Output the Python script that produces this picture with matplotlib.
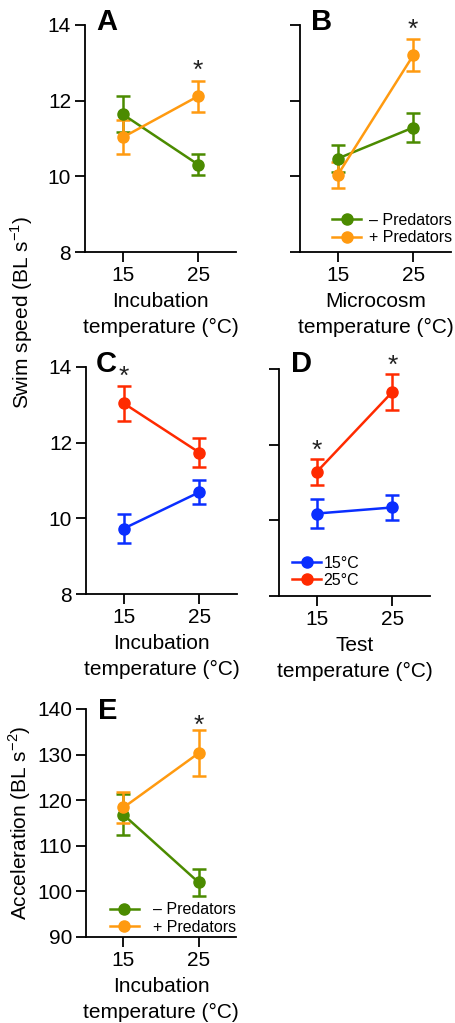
import numpy as np
import matplotlib
matplotlib.use("Agg")
import matplotlib.pyplot as plt
from matplotlib.lines import Line2D

plt.rcParams['font.family'] = ['Liberation Sans', 'DejaVu Sans']
plt.rcParams['mathtext.fontset'] = 'custom'
plt.rcParams['mathtext.rm'] = 'Liberation Sans'

temps = [15, 25]

# A: swim speed vs incubation temperature
a_minus = [11.64, 10.31]
a_minus_err = [0.48, 0.27]
a_plus = [11.03, 12.12]
a_plus_err = [0.45, 0.41]

# B: swim speed vs microcosm temperature
b_minus = [10.47, 11.29]
b_minus_err = [0.35, 0.39]
b_plus = [10.04, 13.20]
b_plus_err = [0.35, 0.42]

# C: swim speed vs incubation temperature, by test temperature
c_15 = [9.73, 10.69]
c_15_err = [0.39, 0.32]
c_25 = [13.04, 11.74]
c_25_err = [0.47, 0.39]

# D: swim speed vs test temperature, by incubation temperature
d_15 = [10.18, 10.34]
d_15_err = [0.39, 0.32]
d_25 = [11.28, 13.39]
d_25_err = [0.34, 0.47]

# E: acceleration vs incubation temperature
e_minus = [116.8, 102.0]
e_minus_err = [4.5, 3.0]
e_plus = [118.4, 130.3]
e_plus_err = [3.5, 5.0]

green = '#4B8B00'
orange = '#FF9A10'
red = '#FF2A00'
blue = '#0A2EFF'

W, H = 456, 1023
fig = plt.figure(figsize=(W / 100, H / 100), dpi=100)
FS = 15


def make_ax(left, top, right, bottom):
    return fig.add_axes([left / W, 1 - bottom / H, (right - left) / W, (bottom - top) / H])


def style(ax, ylim, yticks, show_ylabels=True):
    ax.set_xlim(10, 30)
    ax.set_ylim(*ylim)
    ax.set_xticks(temps)
    ax.set_yticks(yticks)
    if not show_ylabels:
        ax.set_yticklabels([])
    for s in ['top', 'right']:
        ax.spines[s].set_visible(False)
    for s in ['left', 'bottom']:
        ax.spines[s].set_linewidth(1.3)
    ax.tick_params(direction='out', length=7, width=1.3, labelsize=FS, pad=3)


def series(ax, y, err, color):
    ax.errorbar(temps, y, yerr=err, color=color, marker='o', markersize=8,
                linewidth=1.8, elinewidth=1.8, capsize=5, capthick=1.8)


def legend(ax, colors, labels, **kw):
    handles = [Line2D([], [], color=c, marker='o', markersize=8, linewidth=1.8) for c in colors]
    ax.legend(handles, labels, frameon=False, fontsize=11.5, handlelength=1.8,
              labelspacing=0.15, borderaxespad=0.1, **kw)


def star(ax, x, y):
    ax.text(x, y, '*', ha='center', va='center', fontsize=19, color='#222222')


def xlabel(ax, s):
    ax.set_xlabel(s, fontsize=FS, linespacing=1.45, labelpad=5)


axA = make_ax(85, 25, 236, 252)
series(axA, a_minus, a_minus_err, green)
series(axA, a_plus, a_plus_err, orange)
style(axA, (8, 14), [8, 10, 12, 14])
star(axA, 25, 12.78)
xlabel(axA, 'Incubation\ntemperature (\u00b0C)')

axB = make_ax(300, 25, 451, 252)
series(axB, b_minus, b_minus_err, green)
series(axB, b_plus, b_plus_err, orange)
style(axB, (8, 14), [8, 10, 12, 14], show_ylabels=False)
star(axB, 25, 13.88)
xlabel(axB, 'Microcosm\ntemperature (\u00b0C)')
legend(axB, [green, orange], ['\u2013 Predators', '+ Predators'],
       loc='lower right', handletextpad=0.5, bbox_to_anchor=(1.06, -0.005))

axC = make_ax(86, 367, 237, 594)
series(axC, c_15, c_15_err, blue)
series(axC, c_25, c_25_err, red)
style(axC, (8, 14), [8, 10, 12, 14])
star(axC, 15, 13.74)
xlabel(axC, 'Incubation\ntemperature (\u00b0C)')

axD = make_ax(279, 369, 430, 596)
series(axD, d_15, d_15_err, blue)
series(axD, d_25, d_25_err, red)
style(axD, (8, 14), [8, 10, 12, 14], show_ylabels=False)
star(axD, 15, 11.84)
star(axD, 25, 14.08)
xlabel(axD, 'Test\ntemperature (\u00b0C)')
legend(axD, [blue, red], ['15\u00b0C', '25\u00b0C'],
       loc='lower left', handletextpad=0.15, bbox_to_anchor=(0.035, 0.0))

axE = make_ax(86, 709, 236, 937)
series(axE, e_minus, e_minus_err, green)
series(axE, e_plus, e_plus_err, orange)
style(axE, (90, 140), [90, 100, 110, 120, 130, 140])
star(axE, 25, 136.3)
xlabel(axE, 'Incubation\ntemperature (\u00b0C)')
axE.set_ylabel('Acceleration (BL s$^{-2}$)', fontsize=FS, labelpad=3)
legend(axE, [green, orange], ['\u2013 Predators', '+ Predators'],
       loc='lower right', handletextpad=0.9, bbox_to_anchor=(1.055, -0.025))

# shared y label for the swim speed panels
fig.text(22 / W, 1 - 312 / H, 'Swim speed (BL s$^{-1}$)', rotation=90,
         ha='center', va='center', fontsize=FS)

# panel letters
for s, x, y in [('A', 96, 22), ('B', 311, 22), ('C', 96, 364), ('D', 291, 364), ('E', 98, 711)]:
    fig.text(x / W, 1 - y / H, s, fontsize=21, fontweight='bold', ha='left', va='center')

fig.savefig('out.png', dpi=100)
